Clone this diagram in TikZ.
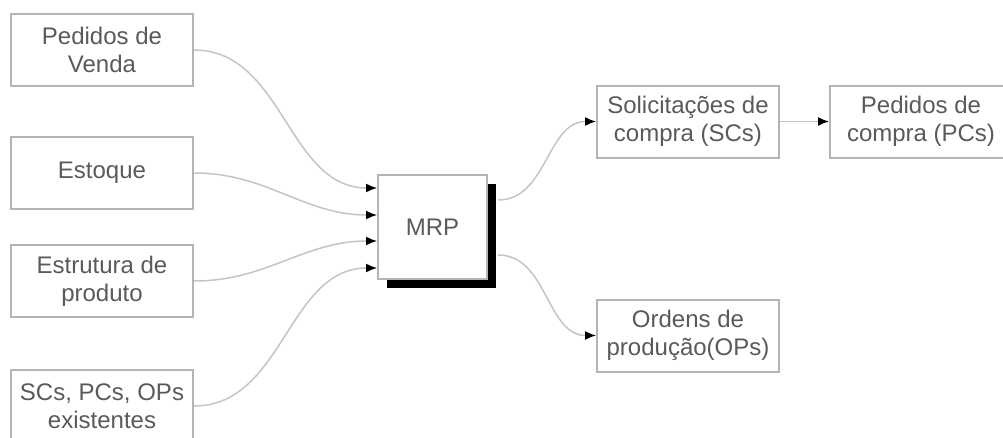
\documentclass[tikz,border=0pt]{standalone}
\usepackage{fontspec}
\setmainfont{Liberation Sans}
\usetikzlibrary{arrows.meta}
\definecolor{boxline}{HTML}{B4B4B4}
\definecolor{conn}{HTML}{C4C4C4}
\definecolor{txt}{HTML}{5A5A5A}
\tikzset{
  box/.style={draw=boxline, line width=2pt, fill=white, minimum width=182pt, minimum height=72pt,
    inner sep=0pt, align=center, text=txt, font=\fontsize{24}{28}\selectfont},
  conn/.style={draw=conn, line width=1.5pt, -{Latex[color=black,length=11pt,width=9pt]}},
}
\begin{document}
\begin{tikzpicture}[x=1pt,y=-1pt]
\useasboundingbox (0,0) rectangle (1003,437);
% left inputs
\node[box] (pv) at (102,50) {Pedidos de\\Venda};
\node[box] (est) at (102,173) {Estoque};
\node[box] (estr) at (102,281) {Estrutura de\\produto};
\node[box] (exist) at (102,406) {SCs, PCs, OPs\\existentes};
% MRP with shadow
\fill[black] (387,184) rectangle (496,288);
\node[box, minimum width=109pt, minimum height=104pt] (mrp) at (432.5,227) {MRP};
% outputs
\node[box] (sc) at (688,121.5) {Solicitações de\\compra (SCs)};
\node[box] (pc) at (921,121.5) {Pedidos de\\compra (PCs)};
\node[box] (op) at (688,335.5) {Ordens de\\produção(OPs)};
% connectors in
\draw[conn] (pv.east) to[out=0,in=180] ([yshift=39pt]mrp.west);
\draw[conn] (est.east) to[out=0,in=180] ([yshift=12pt]mrp.west);
\draw[conn] (estr.east) to[out=0,in=180] ([yshift=-14pt]mrp.west);
\draw[conn] (exist.east) to[out=0,in=180] ([yshift=-41pt]mrp.west);
% connectors out
\draw[conn] ([xshift=10pt,yshift=27pt]mrp.east) to[out=0,in=180] (sc.west);
\draw[conn] ([xshift=10pt,yshift=-28pt]mrp.east) to[out=0,in=180] (op.west);
\draw[conn] (sc.east) -- (pc.west);
\end{tikzpicture}
\end{document}
